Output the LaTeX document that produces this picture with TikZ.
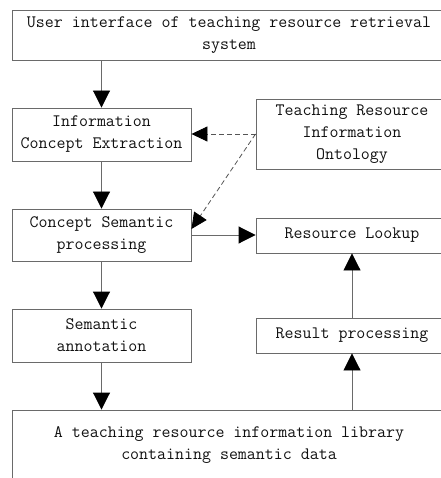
\documentclass[tikz,border=0pt]{standalone}
\usepackage{tikz}
\usetikzlibrary{arrows.meta,calc}
\definecolor{flowink}{HTML}{111111}
\definecolor{flowedge}{HTML}{6A6A6A}
\tikzset{
  bx/.style={draw=flowedge, line width=0.9bp, align=center, text=flowink, inner sep=2pt,
    font=\ttfamily\fontsize{17.5}{22}\selectfont},
  lft/.style={bx, minimum width=179bp, minimum height=53bp},
  rgt/.style={bx, minimum width=192bp, minimum height=35bp},
  wide/.style={bx, minimum width=434bp},
  arr/.style={-{Triangle[length=17bp,width=17bp,color=black]}, line width=0.9bp, color=flowedge},
  dsh/.style={-{Triangle[length=16bp,width=15bp,color=black]}, line width=0.8bp, color=flowedge!80!black,
    dash pattern=on 5bp off 3bp},
}
\begin{document}
\begin{tikzpicture}[x=1bp,y=-1bp]
  \useasboundingbox (0,0) rectangle (441,478);
  \clip (0,0) rectangle (441,478);
  % left column
  \node[wide, minimum height=50bp] (ui) at (229,35) {User interface of teaching resource retrieval\\system};
  \node[lft] (ice) at (101.5,134.5) {Information\\Concept Extraction};
  \node[lft, minimum height=52bp] (csp) at (101.5,235) {Concept Semantic\\processing};
  \node[lft] (sa) at (101.5,335.5) {Semantic\\annotation};
  \node[wide, minimum height=70bp] (lib) at (229,445) {A teaching resource information library\\containing semantic data};
  % right column
  \node[rgt, minimum height=70bp] (onto) at (352,134) {Teaching Resource\\Information\\Ontology};
  \node[rgt] (rl) at (352,235.5) {Resource Lookup};
  \node[rgt] (rp) at (352,335.5) {Result processing};
  % connectors
  \draw[arr] (ice.north |- ui.south) -- (ice.north);
  \draw[arr] (ice) -- (csp);
  \draw[arr] (csp) -- (sa);
  \draw[arr] (sa) -- (sa.south |- lib.north);
  \draw[arr] (csp.east) -- (csp.east -| rl.west);
  \draw[arr] (rp.south |- lib.north) -- (rp.south);
  \draw[arr] (rp) -- (rl);
  \draw[dsh] (onto.west) -- (onto.west -| ice.east);
  \draw[dsh] (onto.west) -- ([yshift=6bp]csp.east);
\end{tikzpicture}
\end{document}
